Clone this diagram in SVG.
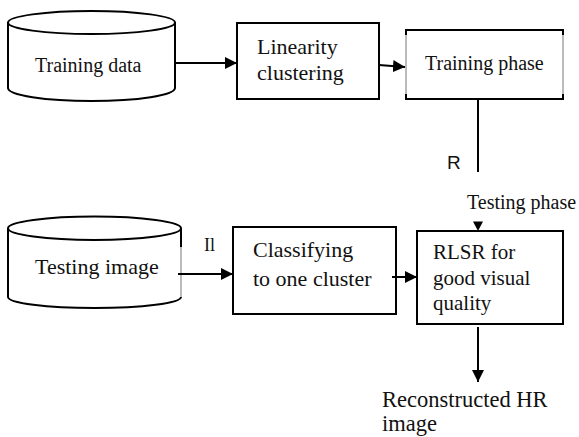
<svg xmlns="http://www.w3.org/2000/svg" width="579" height="437" viewBox="0 0 579 437">
<style>
  .shape { fill: #fff; stroke: #000; stroke-width: 2; }
  .thin { fill: none; stroke: #777; stroke-width: 1; }
  .thick { fill: none; stroke: #000; stroke-width: 2; }
  .edge { fill: none; stroke: #000; stroke-width: 2; }
  .t { font-family: "Liberation Serif", "Times New Roman", serif; fill: #111; }
  .s { font-family: "Liberation Sans", Arial, sans-serif; fill: #111; }
</style>
<defs>
  <marker id="ah" markerUnits="userSpaceOnUse" markerWidth="13" markerHeight="12" refX="12" refY="6" orient="auto">
    <path d="M0,0 L12,6 L0,12 z" fill="#000"/>
  </marker>
</defs>
<rect width="579" height="437" fill="#fff"/>

<g id="training-data">
  <path class="shape" d="M8,22.5 V88 A83.5,13 0 0 0 175,88 V22.5"/>
  <ellipse class="shape" cx="91.5" cy="22.5" rx="83.5" ry="11.5"/>
  <text class="t" x="35" y="72" font-size="20">Training data</text>
</g>

<g id="linearity-clustering">
  <rect class="shape" x="237" y="23" width="142" height="76"/>
  <text class="t" x="257" y="54" font-size="22">Linearity</text>
  <text class="t" x="257" y="80" font-size="22">clustering</text>
</g>

<g id="training-phase">
  <rect x="406" y="30" width="157" height="69" fill="#fff" stroke="none"/>
  <line class="thin" x1="406" y1="30" x2="406" y2="99"/>
  <line class="thin" x1="563" y1="30" x2="563" y2="99"/>
  <path class="thick" d="M406,35 V30 H563 V35"/>
  <path class="thick" d="M406,94 V99 H563 V94"/>
  <text class="t" x="425" y="70" font-size="20">Training phase</text>
</g>

<g id="testing-image">
  <path d="M8,228.3 V297 A86.5,11 0 0 0 181,297 V228.3" fill="#fff" stroke="none"/>
  <path class="thick" d="M181,247 V228.3"/>
  <path class="thin" d="M181,247 V297"/>
  <path class="thick" d="M8,228.3 V297 A86.5,11 0 0 0 181,297"/>
  <ellipse class="shape" cx="94.5" cy="228.3" rx="86.5" ry="11.7"/>
  <text class="t" x="35" y="274" font-size="22">Testing image</text>
</g>

<g id="classifying">
  <rect class="shape" x="233" y="227" width="163" height="87"/>
  <text class="t" x="253" y="257" font-size="22">Classifying</text>
  <text class="t" x="253" y="286" font-size="22">to one cluster</text>
</g>

<g id="rlsr">
  <rect class="shape" x="417" y="231" width="146" height="93"/>
  <text class="t" x="433" y="259" font-size="21">RLSR for</text>
  <text class="t" x="433" y="285" font-size="21">good visual</text>
  <text class="t" x="433" y="310" font-size="21">quality</text>
</g>

<g id="reconstructed">
  <text class="t" x="382" y="407" font-size="22.5">Reconstructed HR</text>
  <text class="t" x="382" y="431" font-size="22.5">image</text>
</g>

<g id="connectors">
  <line class="edge" x1="175" y1="63" x2="237" y2="63" marker-end="url(#ah)"/>
  <line class="edge" x1="379" y1="65" x2="405" y2="67" marker-end="url(#ah)"/>
  <line class="edge" x1="478" y1="99" x2="478" y2="172"/>
  <polygon points="473,221.5 483,221.5 478,231" fill="#000"/>
  <line class="edge" x1="178" y1="274" x2="233" y2="274" marker-end="url(#ah)"/>
  <line class="edge" x1="392" y1="277" x2="417" y2="277" marker-end="url(#ah)"/>
  <line class="edge" x1="478" y1="327" x2="478" y2="382" marker-end="url(#ah)"/>
  <text class="s" x="447" y="169" font-size="19">R</text>
  <text class="t" x="467" y="209" font-size="20">Testing phase</text>
  <text class="t" x="204" y="251" font-size="18">Il</text>
</g>
</svg>
